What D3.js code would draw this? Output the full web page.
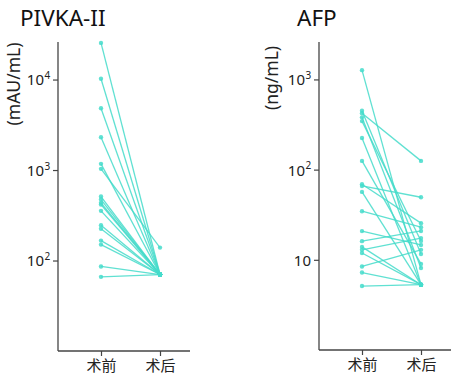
<!DOCTYPE html>
<html><head><meta charset="utf-8">
<script src="https://cdn.jsdelivr.net/npm/d3@7"></script>
<style>body{margin:0;background:#fff}svg{display:block}</style>
</head><body>
<svg id="c" width="455" height="379"></svg>
<script>
const categories = ["术前", "术后"];
// PIVKA-II (mAU/mL)
const pivkaPre  = [25400, 10200, 4820, 2300, 1170, 1030, 509, 472, 434, 416, 354, 245, 224, 166, 150, 86, 66];
const pivkaPost = [70, 70, 70, 70, 70, 139, 70, 70, 70, 70, 70, 70, 70, 70, 70, 70, 70];
// AFP (ng/mL)
const afpPre  = [1268, 449, 421, 380, 345, 224, 125, 68.9, 65.9, 56.6, 34.6, 20.8, 16.1, 13.9, 12.9, 11.9, 8.43, 7.23, 5.12];
const afpPost = [5.3, 11.6, 125, 8.1, 16.2, 5.3, 9.0, 25.5, 49.4, 5.3, 23.0, 14.6, 20.9, 5.3, 17.4, 5.3, 12.9, 5.3, 5.3];
const pivkaTicks = [100, 1000, 10000];
const pivkaTickLabels = [["10","2"],["10","3"],["10","4"]];
const afpTicks = [10, 100, 1000];
const afpTickLabels = [["10",""],["10","2"],["10","3"]];

const svg = d3.select("#c");
const color = "#45dccb";
const axisColor = "#444";
const font = "'Noto Sans', 'Noto Sans CJK SC', sans-serif";

function panel(o){
  const g = svg.append("g");
  const y = d3.scaleLog().domain(o.domain).range([o.bottom, o.top]);
  const x = d3.scalePoint().domain(categories).range([o.ax + 43, o.ax + 102]);
  o.pre.forEach((v,i)=>{
    g.append("line").attr("x1", x(categories[0])).attr("y1", y(v))
     .attr("x2", x(categories[1])).attr("y2", y(o.post[i]))
     .attr("stroke", color).attr("stroke-width", 1.3).attr("opacity", 0.85);
  });
  o.pre.forEach((v,i)=>{
    [[0,v],[1,o.post[i]]].forEach(([k,val])=>{
      g.append("circle").attr("cx", x(categories[k])).attr("cy", y(val)).attr("r", 2.2)
       .attr("fill", color).attr("opacity", 0.85);
    });
  });
  const ya = g.append("g").attr("transform", `translate(${o.ax},0)`)
    .call(d3.axisLeft(y).tickValues(o.ticks).tickSize(5).tickSizeOuter(0).tickFormat(""));
  ya.select(".domain").attr("stroke", axisColor).attr("stroke-width", 1.3).attr("d", `M0,${o.top}V${o.bottom}`);
  ya.selectAll(".tick line").attr("stroke", axisColor).attr("stroke-width", 1.2);
  ya.selectAll(".tick").each(function(d,i){
    d3.select(this).append("text").attr("x", -8 - (o.tickLabels[i][1] ? 6 : 0)).attr("dy", "0.36em")
      .attr("text-anchor", "end").attr("fill", "#222").style("font-family", font).style("font-size", "15px")
      .text(o.tickLabels[i][0]);
    if (o.tickLabels[i][1]) {
      d3.select(this).append("text").attr("x", -13.5).attr("dy", "-0.1em")
        .attr("text-anchor", "start").attr("fill", "#222").style("font-family", font).style("font-size", "10px")
        .text(o.tickLabels[i][1]);
    }
  });
  const xa = g.append("g").attr("transform", `translate(0,${o.bottom})`)
    .call(d3.axisBottom(x).tickSize(5).tickSizeOuter(0));
  xa.select(".domain").attr("stroke", axisColor).attr("stroke-width", 1.3).attr("d", `M${o.ax},0H${o.ax + 132}`);
  xa.selectAll(".tick line").attr("stroke", axisColor).attr("stroke-width", 1.2);
  xa.selectAll(".tick text").attr("y", 9).attr("fill", "#222").style("font-family", font).style("font-size", "15px");
  g.append("text").attr("x", o.titleX).attr("y", 26).attr("fill", "#111")
    .style("font-family", font).style("font-size", "22.5px").text(o.title);
  g.append("text").attr("transform", `translate(${o.unitX},${o.unitY}) rotate(-90)`)
    .attr("text-anchor", "middle").attr("fill", "#222").style("font-family", font).style("font-size", "17.5px").text(o.unit);
}

panel({ax: 58, top: 42, bottom: 351, domain: [10, 26000], pre: pivkaPre, post: pivkaPost,
  ticks: pivkaTicks, tickLabels: pivkaTickLabels, title: "PIVKA-II", titleX: 20, unit: "(mAU/mL)", unitX: 20, unitY: 84});
panel({ax: 319, top: 42, bottom: 350, domain: [1, 2600], pre: afpPre, post: afpPost,
  ticks: afpTicks, tickLabels: afpTickLabels, title: "AFP", titleX: 297, unit: "(ng/mL)", unitX: 278, unitY: 78});
</script>
</body></html>
